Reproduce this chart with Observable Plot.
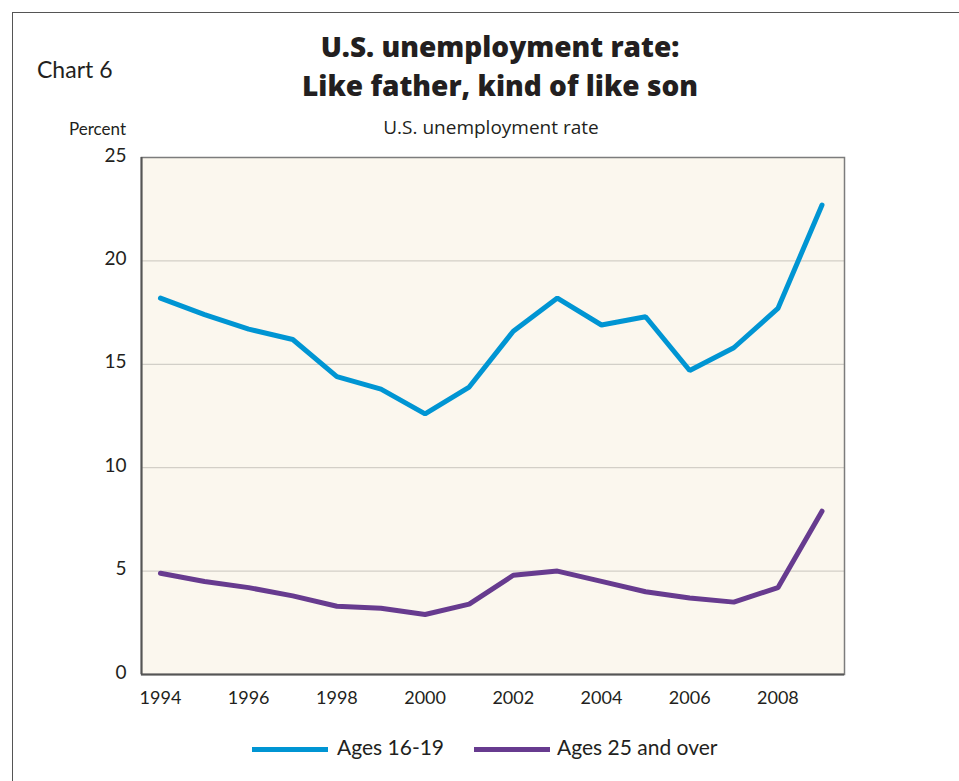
<!DOCTYPE html>
<html>
<head>
<meta charset="utf-8">
<script src="https://cdn.jsdelivr.net/npm/d3@7"></script>
<script src="https://cdn.jsdelivr.net/npm/@observablehq/plot@0.6"></script>
<style>
  html, body { margin: 0; padding: 0; background: #fff; overflow: hidden; }
  body { width: 959px; height: 781px; position: relative; font-family: Lato, "Open Sans", sans-serif; color: #231f20; }
  #frame { position: absolute; left: 12px; top: 12px; width: 1000px; height: 1000px; border-left: 1.5px solid #555; border-top: 1.5px solid #555; }
  .abs { position: absolute; white-space: nowrap; }
  #chartno { left: 37px; top: 55px; font-size: 23px; }
  #title { left: 0; width: 1000px; top: 27px; text-align: center; font-family: "Open Sans", Lato, sans-serif; font-weight: 800; font-size: 28px; line-height: 39px; }
  #subtitle { left: 0; width: 982px; top: 114px; text-align: center; font-family: "Open Sans", Lato, sans-serif; font-size: 19px; }
  #unit { right: 833px; top: 119px; font-size: 17px; line-height: 20px; }
  #chart { position: absolute; left: 0; top: 140px; }
  #legend { left: 0; top: 734px; font-size: 21px; }
  .sw { position: absolute; height: 5px; top: 13px; }
  .lt { position: absolute; top: 0; }
</style>
</head>
<body>
<div id="frame"></div>
<div class="abs" id="chartno">Chart 6</div>
<div class="abs" id="title">U.S. unemployment rate:<br>Like father, kind of like son</div>
<div class="abs" id="subtitle">U.S. unemployment rate</div>
<div class="abs" id="unit">Percent</div>
<div id="chart"></div>
<div class="abs" id="legend"></div>
<script>
const years = [1994,1995,1996,1997,1998,1999,2000,2001,2002,2003,2004,2005,2006,2007,2008,2009];
const teens = [18.2,17.4,16.7,16.2,14.4,13.8,12.6,13.9,16.6,18.2,16.9,17.3,14.7,15.8,17.7,22.7];
const adults = [4.9,4.5,4.2,3.8,3.3,3.2,2.9,3.4,4.8,5.0,4.5,4.0,3.7,3.5,4.2,7.9];
const seriesNames = ["Ages 16-19", "Ages 25 and over"];
const seriesColors = ["#0095d3", "#673b8f"];
const xTicks = [1994,1996,1998,2000,2002,2004,2006,2008];
const yTicks = [0,5,10,15,20,25];
const gridValues = [5,10,15,20];

const data = [];
years.forEach((y,i) => {
  data.push({year: y, value: teens[i], series: seriesNames[0]});
  data.push({year: y, value: adults[i], series: seriesNames[1]});
});

const plot = Plot.plot({
  width: 959,
  height: 580,
  marginLeft: 141,
  marginRight: 115,
  marginTop: 17,
  marginBottom: 46,
  style: {fontFamily: "Lato, 'Open Sans', sans-serif", fontSize: "18px", color: "#231f20", background: "transparent"},
  x: {domain: [1993.57, 2009.51], ticks: xTicks, tickFormat: d => String(d), tickSize: 0, tickPadding: 17, label: null},
  y: {domain: [0, 25], ticks: yTicks, tickSize: 0, tickPadding: 15, label: null},
  color: {domain: seriesNames, range: seriesColors},
  marks: [
    Plot.frame({fill: "#fbf7ee"}),
    Plot.ruleY(gridValues, {stroke: "#c9c5be", strokeWidth: 1}),
    Plot.axisX({ticks: xTicks, tickFormat: d => String(d), tickSize: 0, tickPadding: 17, fontSize: 18, label: null}),
    Plot.axisY({ticks: yTicks, tickSize: 0, tickPadding: 15, fontSize: 19, dy: -2, label: null}),
    Plot.line(data, {x: "year", y: "value", z: "series", stroke: "series", strokeWidth: 5, strokeLinejoin: "miter", strokeLinecap: "round"}),
    Plot.frame({stroke: "#7c7c7c", strokeWidth: 1.5}),
    Plot.ruleX([1993.57], {stroke: "#555", strokeWidth: 2}),
    Plot.ruleY([0], {stroke: "#555", strokeWidth: 2})
  ]
});
document.getElementById("chart").appendChild(plot);

const legend = document.getElementById("legend");
const legendX = [[252, 337], [474, 557]];
seriesNames.forEach((n, i) => {
  const sw = document.createElement("div");
  sw.className = "sw";
  sw.style.left = legendX[i][0] + "px";
  sw.style.width = "76px";
  sw.style.background = seriesColors[i];
  legend.appendChild(sw);
  const t = document.createElement("div");
  t.className = "lt";
  t.style.left = legendX[i][1] + "px";
  t.textContent = n;
  legend.appendChild(t);
});
</script>
</body>
</html>
